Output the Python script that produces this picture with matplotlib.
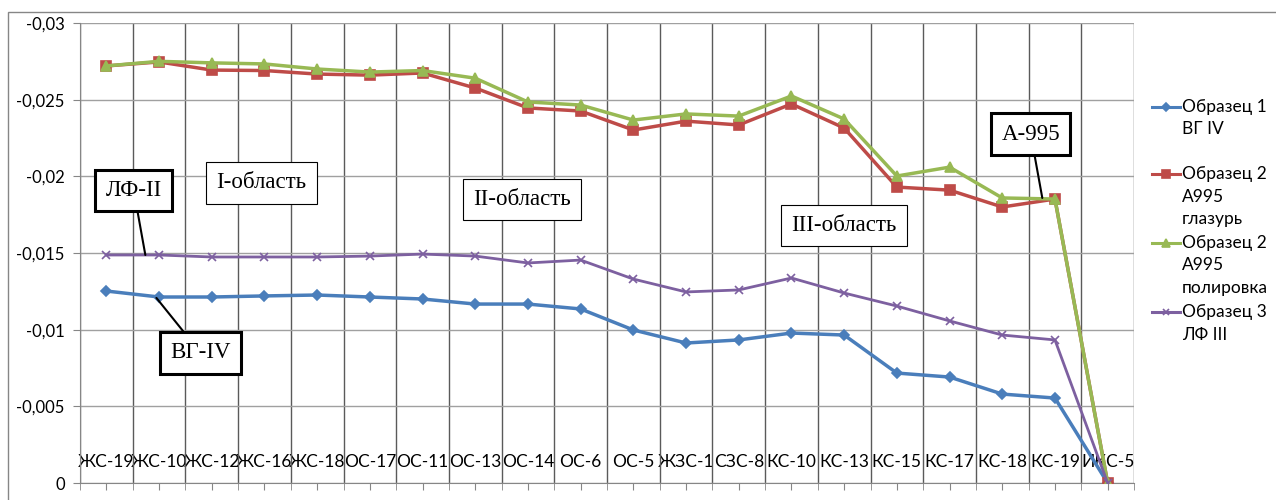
import numpy as np
import matplotlib
matplotlib.use("Agg")
from matplotlib import pyplot as plt
from matplotlib.ticker import FuncFormatter, FixedLocator
from matplotlib.patches import Rectangle
from matplotlib.lines import Line2D

categories = ["ЖС-19", "ЖС-10", "ЖС-12", "ЖС-16", "ЖС-18", "ОС-17", "ОС-11", "ОС-13", "ОС-14", "ОС-6",
              "ОС-5", "ЖЗС-1", "СЗС-8", "КС-10", "КС-13", "КС-15", "КС-17", "КС-18", "КС-19", "ИКС-5"]

vg_iv = [-0.01252, -0.01213, -0.01213, -0.0122, -0.01226, -0.01213, -0.0120, -0.01167, -0.01167, -0.01135,
         -0.00998, -0.00913, -0.00933, -0.00978, -0.00965, -0.00717, -0.00691, -0.0058, -0.00554, 0.0]
a995_glaze = [-0.0272, -0.02746, -0.02693, -0.0269, -0.02667, -0.0266, -0.02674, -0.02576, -0.02446, -0.02426,
              -0.02302, -0.0236, -0.02335, -0.02472, -0.02315, -0.0193, -0.0191, -0.0180, -0.01852, 0.0]
a995_polish = [-0.0272, -0.0275, -0.0274, -0.02733, -0.0270, -0.0268, -0.0269, -0.0264, -0.02485, -0.02465,
               -0.02367, -0.02407, -0.02393, -0.02524, -0.02374, -0.02002, -0.0206, -0.01859, -0.01852, 0.0]
lf_iii = [-0.01487, -0.01487, -0.01474, -0.01474, -0.01474, -0.0148, -0.01493, -0.0148, -0.01435, -0.01454,
          -0.0133, -0.01246, -0.01259, -0.01337, -0.01239, -0.01154, -0.01057, -0.00965, -0.00933, 0.0]

series_labels = ["Образец 1\nВГ IV", "Образец 2\nА995\nглазурь", "Образец 2\nА995\nполировка", "Образец 3\nЛФ III"]

sans = ["Lato", "DejaVu Sans"]
serif = ["Liberation Serif", "DejaVu Serif"]
plt.rcParams['font.family'] = sans

W, H = 1276, 500
fig = plt.figure(figsize=(W/100, H/100), dpi=100)
ax = fig.add_axes([80/W, 17/H, (1134-80)/W, 460/H])

x = np.arange(len(categories))
styles = [
    (vg_iv, 'D', '#4a7ebb', 2.5, 5),
    (a995_glaze, 's', '#be4b48', 2.5, 7),
    (a995_polish, '^', '#98b954', 2.5, 7),
    (lf_iii, 'x', '#7d60a0', 2.0, 6),
]
for (vals, mk, col, lw, ms), lab in zip(styles, series_labels):
    ax.plot(x, vals, '-', marker=mk, color=col, lw=lw, ms=ms, mew=1.2, label=lab, zorder=5)

ax.set_xlim(-0.5, len(categories) - 0.5)
ax.set_ylim(0, -0.03)
ax.set_yticks(np.arange(0, -0.0301, -0.005))
ax.yaxis.set_major_formatter(FuncFormatter(lambda v, p: "0" if abs(v) < 1e-9 else ("%g" % v).replace(".", ",")))
ax.set_xticks(x)
ax.set_xticklabels(categories)
ax.xaxis.set_minor_locator(FixedLocator(np.arange(-0.5, len(categories), 1.0)))

ax.grid(axis='y', which='major', color='#a0a0a0', lw=1.0)
ax.grid(axis='x', which='minor', color='#5a5a5a', lw=1.0)
ax.set_axisbelow(True)
for s in ['top', 'right']:
    ax.spines[s].set_visible(False)
for s in ['left', 'bottom']:
    ax.spines[s].set_color('#868686')
ax.tick_params(axis='x', which='major', direction='out', length=5, color='#868686', pad=-26, labelsize=12.5)
ax.tick_params(axis='x', which='minor', direction='out', length=5, color='#868686')
ax.tick_params(axis='y', direction='out', length=5, color='#868686', labelsize=12, pad=6)

# text boxes
thick = dict(boxstyle='square,pad=0.45', fc='white', ec='black', lw=2.2)
thin = dict(boxstyle='square,pad=0.45', fc='white', ec='black', lw=0.8)
line = dict(arrowstyle='-', color='black', lw=1.5, shrinkA=0, shrinkB=0)
fs = 16.5
ax.annotate("ЛФ-II", xy=(0.74, -0.01487), xytext=(0.52, -0.01908), ha='center', va='center',
            fontsize=fs, family=serif, bbox=thick, arrowprops=line, zorder=10)
ax.annotate("ВГ-IV", xy=(0.95, -0.01207), xytext=(1.79, -0.00848), ha='center', va='center',
            fontsize=fs, family=serif, bbox=thick, arrowprops=line, zorder=10)
ax.annotate("А-995", xy=(17.76, -0.01859), xytext=(17.54, -0.02276), ha='center', va='center',
            fontsize=fs, family=serif, bbox=thick, arrowprops=line, zorder=10)
ax.text(2.94, -0.01957, "I-область", ha='center', va='center', fontsize=fs, family=serif, bbox=thin, zorder=10)
ax.text(7.89, -0.01849, "II-область", ha='center', va='center', fontsize=fs, family=serif, bbox=thin, zorder=10)
ax.text(14.0, -0.0168, "III-область", ha='center', va='center', fontsize=fs, family=serif, bbox=thin, zorder=10)

# legend drawn Excel-style: handle next to first line of each label
first_rows = [107, 174, 243, 312]
step = 22.5
for (vals, mk, col, lw, ms), lab, y0 in zip(styles, series_labels, first_rows):
    yf = 1 - y0 / H
    fig.add_artist(Line2D([1152/W, 1180/W], [yf, yf], color=col, lw=2.2, transform=fig.transFigure))
    fig.add_artist(Line2D([1166/W], [yf], marker=mk, color=col, ms=ms - 1, mew=1.2, transform=fig.transFigure))
    for i, row in enumerate(lab.split("\n")):
        fig.text(1182/W, 1 - (y0 + i*step)/H, row, va='center', ha='left', fontsize=12.5)

# outer chart border
fig.patches.append(Rectangle((8/W, -0.2), 1.2, 1.2 - 12/H, transform=fig.transFigure,
                             fill=False, ec='#868686', lw=1.0))

plt.savefig("out.png", dpi=100)
